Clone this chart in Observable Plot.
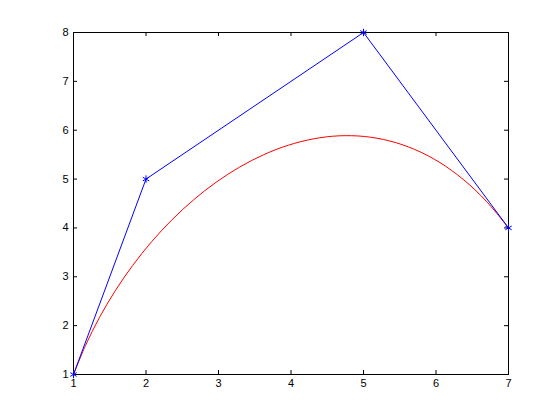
<!DOCTYPE html>
<html>
<head>
<meta charset="utf-8">
<script src="https://cdn.jsdelivr.net/npm/d3@7"></script>
<script src="https://cdn.jsdelivr.net/npm/@observablehq/plot@0.6"></script>
<style>
  html, body { margin: 0; padding: 0; background: #fff; }
  #chart { width: 560px; height: 420px; }
</style>
</head>
<body>
<div id="chart"></div>
<script>
// Control polygon (blue, asterisk markers)
const ctrlX = [1, 2, 5, 7];
const ctrlY = [1, 5, 8, 4];

// Red curve, points
const curveX = [1, 1.165, 1.357, 1.575, 1.816, 2.078, 2.359, 2.656, 2.968, 3.292, 3.625, 3.966, 4.312, 4.661, 5.011, 5.359, 5.704, 6.043, 6.373, 6.693, 7];
const curveY = [1, 1.592, 2.164, 2.712, 3.232, 3.719, 4.168, 4.575, 4.936, 5.246, 5.5, 5.694, 5.824, 5.885, 5.872, 5.781, 5.608, 5.348, 4.996, 4.548, 4];

const xTicks = [1, 2, 3, 4, 5, 6, 7];
const yTicks = [1, 2, 3, 4, 5, 6, 7, 8];

const ctrl = ctrlX.map((x, i) => ({x, y: ctrlY[i]}));
const curve = curveX.map((x, i) => ({x, y: curveY[i]}));

const W = 560, H = 420;
const mL = 73, mR = 52, mT = 32, mB = 46;
const fw = W - mL - mR, fh = H - mT - mB;
const tick = 4;

const chart = Plot.plot({
  width: W,
  height: H,
  marginLeft: mL,
  marginRight: mR,
  marginTop: mT,
  marginBottom: mB,
  style: {background: "#fff", fontFamily: "'Liberation Sans', Arial, sans-serif", fontSize: "11px", color: "#000"},
  x: {domain: [1, 7], ticks: xTicks, label: null},
  y: {domain: [1, 8], ticks: yTicks, label: null},
  marks: [
    Plot.frame({stroke: "#000"}),
    Plot.axisX(xTicks, {tickSize: 0, tickPadding: 5, fontSize: 11, label: null}),
    Plot.axisY(yTicks, {tickSize: 0, tickPadding: 5, fontSize: 11, label: null}),
    Plot.tickX(xTicks, {x: d => d, insetTop: fh - tick, stroke: "#000"}),
    Plot.tickX(xTicks, {x: d => d, insetBottom: fh - tick, stroke: "#000"}),
    Plot.tickY(yTicks, {y: d => d, insetRight: fw - tick, stroke: "#000"}),
    Plot.tickY(yTicks, {y: d => d, insetLeft: fw - tick, stroke: "#000"}),
    Plot.line(curve, {x: "x", y: "y", stroke: "#ff0000", strokeWidth: 1, curve: "catmull-rom"}),
    Plot.line(ctrl, {x: "x", y: "y", stroke: "#0000ff", strokeWidth: 1}),
    Plot.dot(ctrl, {x: "x", y: "y", symbol: "asterisk", r: 3.5, stroke: "#0000ff", strokeWidth: 1})
  ]
});
document.getElementById("chart").appendChild(chart);
</script>
</body>
</html>
